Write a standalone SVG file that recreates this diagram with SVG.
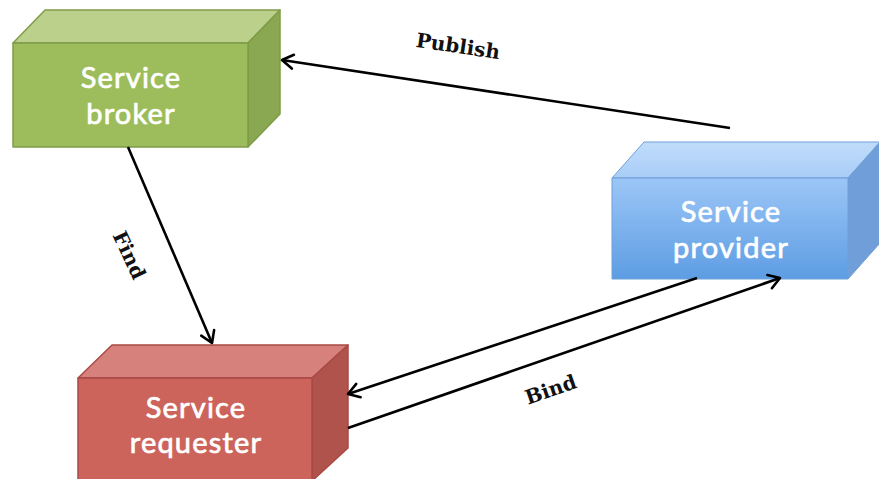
<svg xmlns="http://www.w3.org/2000/svg" width="879" height="479" viewBox="0 0 879 479">
  <defs>
    <linearGradient id="blueFront" x1="0" y1="0" x2="0" y2="1">
      <stop offset="0" stop-color="#9cc6f7"/>
      <stop offset="1" stop-color="#5d9de3"/>
    </linearGradient>
    <linearGradient id="blueTop" x1="0" y1="0" x2="0" y2="1">
      <stop offset="0" stop-color="#c0dcfb"/>
      <stop offset="1" stop-color="#a9cdf8"/>
    </linearGradient>
    <marker id="arrow" viewBox="0 0 20 20" refX="17" refY="10" markerWidth="20" markerHeight="20" markerUnits="userSpaceOnUse" orient="auto">
      <path d="M6,3 L17,10 L6,17" fill="none" stroke="#000" stroke-width="2.6" stroke-linecap="round" stroke-linejoin="round"/>
    </marker>
  </defs>
  <style>
    .node-text { font-family: Lato, "Open Sans", sans-serif; font-size: 29px; letter-spacing: 1.2px; fill: #ffffff; stroke: #ffffff; stroke-width: 0.7; text-anchor: middle; }
    .edge { fill: none; stroke: #000; stroke-width: 2.6; marker-end: url(#arrow); }
    .edge-label { font-family: "DejaVu Serif", "Liberation Serif", serif; font-weight: bold; font-size: 20px; fill: #111; text-anchor: middle; }
    .green { stroke: #7f9c48; stroke-width: 1.5; stroke-linejoin: round; }
    .red { stroke: #a94a45; stroke-width: 1.5; stroke-linejoin: round; }
    .blue { stroke: #6f9fd8; stroke-width: 1; stroke-linejoin: round; }
  </style>

  <rect width="879" height="479" fill="#ffffff"/>

  <!-- Service broker -->
  <g id="broker">
    <polygon class="green" points="13,43 45,10 280,10 248,43" fill="#bbd08b"/>
    <polygon class="green" points="248,43 280,10 280,114 248,147" fill="#8aa851"/>
    <rect class="green" x="13" y="43" width="235" height="104" fill="#9dbd5c"/>
    <text class="node-text" x="131" y="88">Service</text>
    <text class="node-text" x="131" y="124">broker</text>
  </g>

  <!-- Service provider -->
  <g id="provider">
    <polygon class="blue" points="612,178 644,142 880,142 848,178" fill="url(#blueTop)"/>
    <polygon class="blue" points="848,178 880,142 880,243 848,279" fill="#6f9ed8"/>
    <rect class="blue" x="612" y="178" width="236" height="101" fill="url(#blueFront)"/>
    <text class="node-text" x="731" y="222">Service</text>
    <text class="node-text" x="731" y="258">provider</text>
  </g>

  <!-- Service requester -->
  <g id="requester">
    <polygon class="red" points="78,378 112,345 348,345 312,378" fill="#d6817c"/>
    <polygon class="red" points="312,378 348,345 348,448 312,481" fill="#b0534d"/>
    <rect class="red" x="78" y="378" width="234" height="103" fill="#cc645c"/>
    <text class="node-text" x="196" y="418">Service</text>
    <text class="node-text" x="196" y="453">requester</text>
  </g>

  <!-- Connectors -->
  <g id="connectors">
    <line class="edge" x1="730" y1="128" x2="282" y2="60"/>
    <line class="edge" x1="128" y1="147" x2="212" y2="343"/>
    <line class="edge" x1="697" y1="278" x2="348" y2="394"/>
    <line class="edge" x1="348" y1="428" x2="780" y2="278"/>
    <text class="edge-label" transform="translate(457,53) rotate(8.5)">Publish</text>
    <text class="edge-label" transform="translate(123,258) rotate(65)">Find</text>
    <text class="edge-label" transform="translate(553,396) rotate(-19)">Bind</text>
  </g>
</svg>
